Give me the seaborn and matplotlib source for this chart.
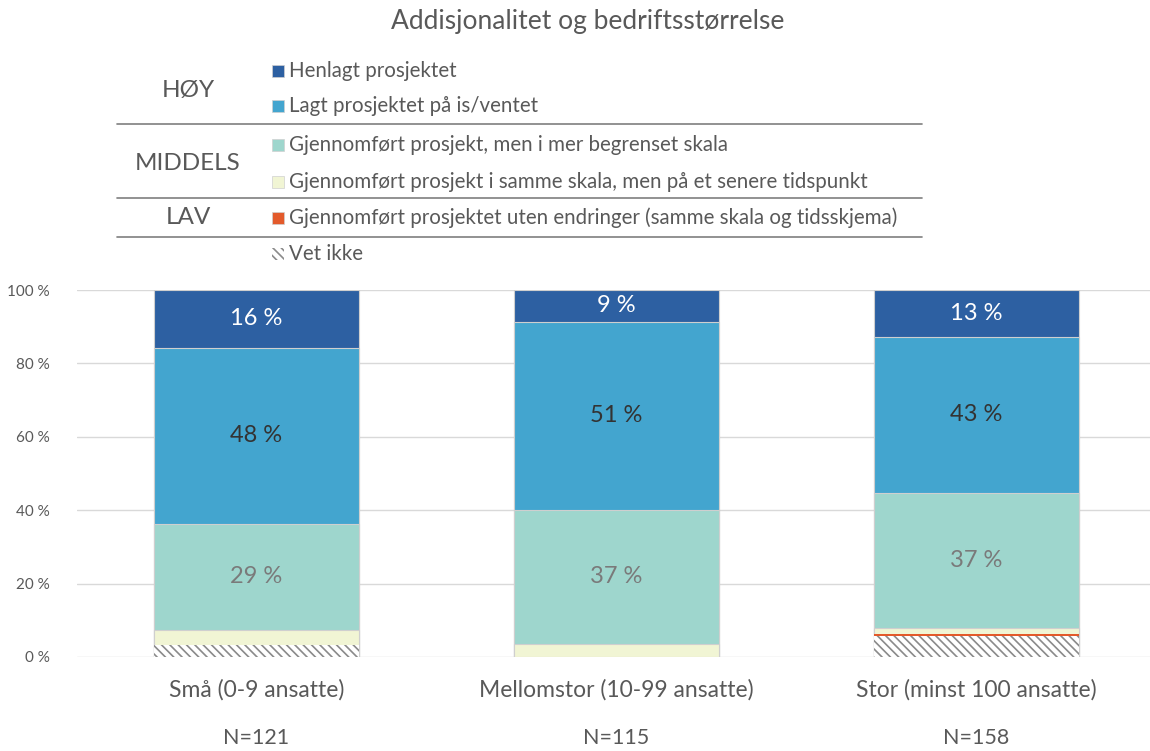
import pandas as pd
import numpy as np
import matplotlib.pyplot as plt
import seaborn as sns
from matplotlib.patches import Rectangle
from matplotlib.lines import Line2D

sns.set_theme(style='white')
plt.rcParams['font.family'] = ['Lato', 'DejaVu Sans']
plt.rcParams['hatch.linewidth'] = 1.2

# Data (percent of firms in each group)
categories = ['Små (0-9 ansatte)', 'Mellomstor (10-99 ansatte)', 'Stor (minst 100 ansatte)']
n_labels = ['N=121', 'N=115', 'N=158']
vet_ikke = [3.3, 0.0, 5.7]
uten_endringer = [0.0, 0.0, 0.6]
senere_tidspunkt = [4.1, 3.5, 1.7]
begrenset_skala = [28.9, 36.6, 36.6]
paa_is = [47.9, 51.3, 42.7]
henlagt = [15.8, 8.6, 12.7]

series = ['Vet ikke',
          'Gjennomført prosjektet uten endringer (samme skala og tidsskjema)',
          'Gjennomført prosjekt i samme skala, men på et senere tidspunkt',
          'Gjennomført prosjekt, men i mer begrenset skala',
          'Lagt prosjektet på is/ventet',
          'Henlagt prosjektet']
values = [vet_ikke, uten_endringer, senere_tidspunkt, begrenset_skala, paa_is, henlagt]
colors = ['white', '#E35A2B', '#F1F5D4', '#9ED6CD', '#43A5CF', '#2D60A2']

df = pd.DataFrame(dict(zip(series, values)), index=categories)
cum = df.cumsum(axis=1)

fig = plt.figure(figsize=(11.5, 7.51), dpi=100)
ax = fig.add_axes([76.5 / 1150, 94 / 751, 1080 / 1150, 367 / 751])

# stacked bars: draw cumulative totals from the top down
for i in range(len(series) - 1, -1, -1):
    plot_df = pd.DataFrame({'cat': categories, 'val': cum[series[i]].values})
    if series[i] == 'Vet ikke':
        sns.barplot(data=plot_df, x='cat', y='val', color='white', width=0.57,
                    edgecolor='#8a8a8a', linewidth=0, hatch='\\\\\\\\', ax=ax,
                    saturation=1)
    elif series[i].startswith('Gjennomført prosjektet uten'):
        sns.barplot(data=plot_df, x='cat', y='val', color=colors[i], width=0.57,
                    linewidth=0, ax=ax, saturation=1)
    else:
        sns.barplot(data=plot_df, x='cat', y='val', color=colors[i], width=0.57,
                    edgecolor='#cfcfcf', linewidth=0.8, ax=ax, saturation=1)

# value labels for the three big segments
label_colors = {'Gjennomført prosjekt, men i mer begrenset skala': '#7a7a7a',
                'Lagt prosjektet på is/ventet': '#333333',
                'Henlagt prosjektet': 'white'}
for s, c in label_colors.items():
    for j, cat in enumerate(categories):
        v = df.loc[cat, s]
        mid = cum.loc[cat, s] - v / 2
        ax.text(j, mid, f'{v:.0f} %', ha='center', va='center', fontsize=17, color=c)

ax.set_ylim(0, 100)
ax.set_xlim(-0.5, 2.5)
ax.set_yticks([0, 20, 40, 60, 80, 100])
ax.set_yticklabels([f'{t} %' for t in [0, 20, 40, 60, 80, 100]])
ax.tick_params(axis='y', colors='#595959', labelsize=11, pad=13)
ax.set_xticks([])
ax.set_xlabel('')
ax.set_ylabel('')
ax.yaxis.grid(True, color='#d9d9d9', linewidth=1)
ax.set_axisbelow(True)
for sp in ax.spines.values():
    sp.set_visible(False)

# category and N labels under bars
for j, (cat, n) in enumerate(zip(categories, n_labels)):
    ax.text(j, -9, cat, ha='center', va='center', fontsize=16.5, color='#595959')
    ax.text(j, -22, n, ha='center', va='center', fontsize=15.5, color='#595959')

fig.text(588 / 1150, 1 - 22 / 751, 'Addisjonalitet og bedriftsstørrelse',
         ha='center', va='center', fontsize=19, color='#595959')

# custom grouped legend
def fx(x):
    return x / 1150

def fy(y):
    return 1 - y / 751

rows_y = [71, 106, 145, 182, 218, 254]
legend_order = [5, 4, 3, 2, 1, 0]
for y, idx in zip(rows_y, legend_order):
    if series[idx] == 'Vet ikke':
        fig.add_artist(Rectangle((fx(272), fy(y + 6)), 12 / 1150, 12 / 751,
                                 transform=fig.transFigure, facecolor='white',
                                 edgecolor='#8a8a8a', linewidth=0, hatch='\\\\\\\\'))
    else:
        fig.add_artist(Rectangle((fx(272), fy(y + 6)), 12 / 1150, 12 / 751,
                                 transform=fig.transFigure, facecolor=colors[idx],
                                 edgecolor='#d0d0d0', linewidth=0.5))
    fig.text(fx(289), fy(y), series[idx], ha='left', va='center',
             fontsize=14.8, color='#595959')

for name, y in [('HØY', 90), ('MIDDELS', 163), ('LAV', 218)]:
    fig.text(fx(188), fy(y), name, ha='center', va='center', fontsize=17.5, color='#595959')

for y in [124, 198, 237]:
    fig.add_artist(Line2D([fx(117), fx(922)], [fy(y), fy(y)],
                          transform=fig.transFigure, color='#7f7f7f', linewidth=1.2))

plt.savefig('out.png', dpi=100)
